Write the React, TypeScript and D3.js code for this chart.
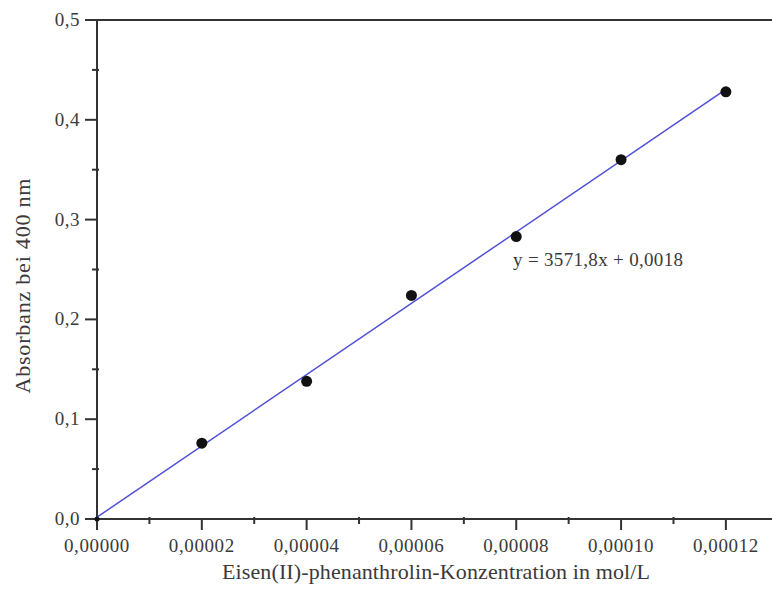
import { useRef, useEffect } from 'react';
import * as d3 from 'd3';

// concentration (mol/L) and absorbance at 400 nm
const concentrations = [0.00002, 0.00004, 0.00006, 0.00008, 0.00010, 0.00012];
const absorbances = [0.076, 0.138, 0.224, 0.283, 0.360, 0.428];
const slope = 3571.8;
const intercept = 0.0018;
const xTicks = [0, 0.00002, 0.00004, 0.00006, 0.00008, 0.00010, 0.00012];
const yTicks = [0, 0.1, 0.2, 0.3, 0.4, 0.5];

const W = 772;
const H = 609;
const FONT = '"Liberation Serif", "DejaVu Serif", serif';

export default function App() {
    const svgRef = useRef<SVGSVGElement>(null);

    useEffect(() => {
        if (!svgRef.current) return;
        const svg = d3.select(svgRef.current);
        svg.selectAll('*').remove();

        const left = 97, right = 772, top = 20, bottom = 519;
        const x = d3.scaleLinear().domain([0, 0.0001288]).range([left, right]);
        const y = d3.scaleLinear().domain([0, 0.5]).range([bottom, top]);
        const axisColor = '#333';
        const textColor = '#3a3a3a';
        const fmtX = (v: number) => v.toFixed(5).replace('.', ',');
        const fmtY = (v: number) => v.toFixed(1).replace('.', ',');

        // frame lines (top, left, bottom)
        svg.append('line').attr('x1', left).attr('x2', right).attr('y1', top).attr('y2', top)
            .attr('stroke', axisColor).attr('stroke-width', 2);
        svg.append('line').attr('x1', left).attr('x2', left).attr('y1', top - 1).attr('y2', bottom + 1)
            .attr('stroke', axisColor).attr('stroke-width', 2);
        svg.append('line').attr('x1', left).attr('x2', right).attr('y1', bottom).attr('y2', bottom)
            .attr('stroke', axisColor).attr('stroke-width', 2);

        // y ticks
        yTicks.forEach(t => {
            svg.append('line').attr('x1', left - 12).attr('x2', left).attr('y1', y(t)).attr('y2', y(t))
                .attr('stroke', axisColor).attr('stroke-width', 2);
            svg.append('text').attr('x', 80).attr('y', y(t) + 6).attr('text-anchor', 'end')
                .attr('font-family', FONT).attr('font-size', 19).attr('letter-spacing', 0.5)
                .attr('fill', textColor).text(fmtY(t));
        });
        yTicks.slice(0, -1).forEach(t => {
            const m = t + 0.05;
            svg.append('line').attr('x1', left - 5).attr('x2', left + 2).attr('y1', y(m)).attr('y2', y(m))
                .attr('stroke', axisColor).attr('stroke-width', 2);
        });

        // x ticks
        xTicks.forEach(t => {
            svg.append('line').attr('x1', x(t)).attr('x2', x(t)).attr('y1', bottom).attr('y2', bottom + 11)
                .attr('stroke', axisColor).attr('stroke-width', 2);
            svg.append('text').attr('x', x(t)).attr('y', 552).attr('text-anchor', 'middle')
                .attr('font-family', FONT).attr('font-size', 19).attr('letter-spacing', 0.6)
                .attr('fill', textColor).text(fmtX(t));
        });
        xTicks.forEach(t => {
            const m = t + 0.00001;
            if (x(m) > right) return;
            svg.append('line').attr('x1', x(m)).attr('x2', x(m)).attr('y1', bottom - 2).attr('y2', bottom + 5)
                .attr('stroke', axisColor).attr('stroke-width', 2);
        });

        // regression line
        svg.append('line')
            .attr('x1', x(0)).attr('y1', y(intercept))
            .attr('x2', x(0.00012)).attr('y2', y(slope * 0.00012 + intercept))
            .attr('stroke', '#5050d8').attr('stroke-width', 1.5);

        // points
        svg.append('circle').attr('cx', x(0)).attr('cy', y(0)).attr('r', 2.5).attr('fill', '#111');
        concentrations.forEach((c, i) => {
            svg.append('circle').attr('cx', x(c)).attr('cy', y(absorbances[i])).attr('r', 5.5).attr('fill', '#111');
        });

        // equation
        svg.append('text').attr('x', 513).attr('y', 266)
            .attr('font-family', FONT).attr('font-size', 19)
            .attr('textLength', 170).attr('lengthAdjust', 'spacing')
            .attr('fill', textColor)
            .text('y = 3571,8x + 0,0018');

        // axis titles
        svg.append('text').attr('x', 436).attr('y', 579).attr('text-anchor', 'middle')
            .attr('font-family', FONT).attr('font-size', 22)
            .attr('textLength', 428).attr('lengthAdjust', 'spacing')
            .attr('fill', textColor)
            .text('Eisen(II)-phenanthrolin-Konzentration in mol/L');
        svg.append('text').attr('transform', 'translate(30,286) rotate(-90)').attr('text-anchor', 'middle')
            .attr('font-family', FONT).attr('font-size', 22)
            .attr('textLength', 215).attr('lengthAdjust', 'spacing')
            .attr('fill', textColor)
            .text('Absorbanz bei 400 nm');
    }, []);

    return (
        <svg ref={svgRef} width={W} height={H}
            style={{ position: 'absolute', left: 0, top: 0, background: '#fff', display: 'block' }} />
    );
}
